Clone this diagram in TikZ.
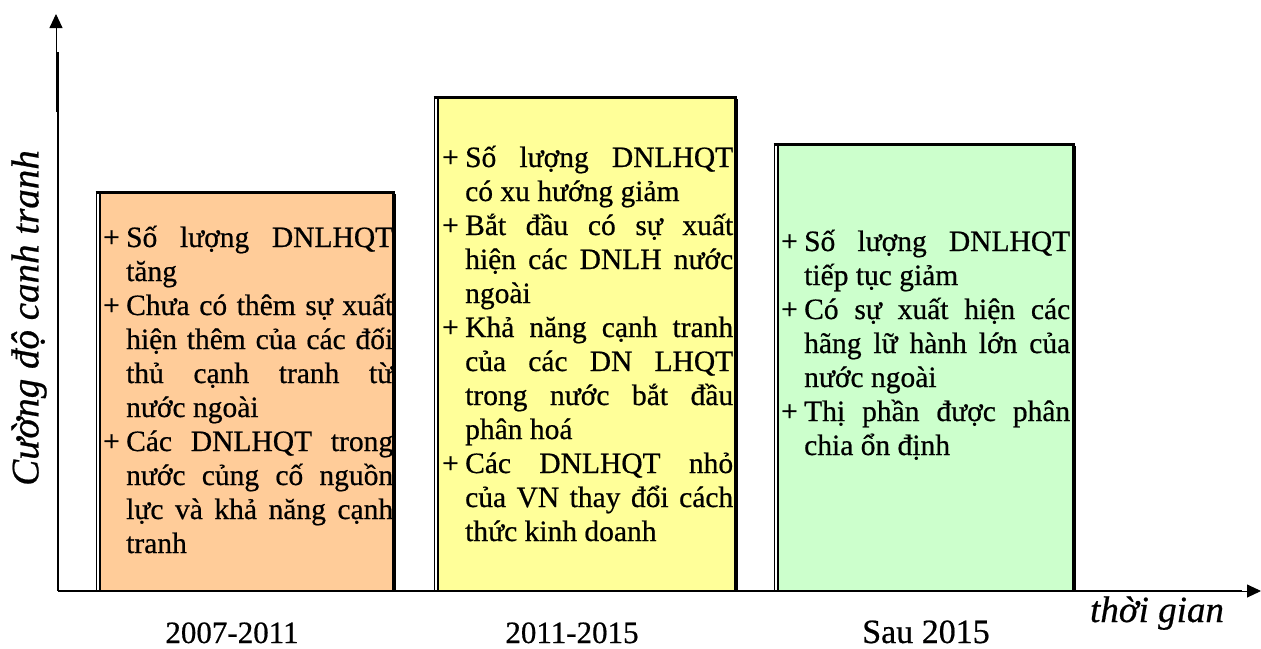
\documentclass[tikz,border=0pt]{standalone}
\usepackage{fontspec}
\setmainfont{Liberation Serif}[RawFeature={embolden=0.6}]
\usetikzlibrary{arrows.meta}
\definecolor{peach}{HTML}{FFCC99}
\definecolor{lyellow}{HTML}{FFFF99}
\definecolor{lgreen}{HTML}{CCFFCC}
\newcommand{\itm}[1]{{\hangindent=23pt\hangafter=1\noindent\makebox[23pt][l]{+}#1\par}}
\newcommand{\txtfont}{\fontsize{29.5}{34}\selectfont}
\tikzset{
  barbox/.style={anchor=south west, inner sep=0pt, outer sep=0pt, draw=none},
  bartext/.style={anchor=base west, inner sep=0pt, font=\txtfont},
  axisthick/.style={line width=2.4pt},
  axisthin/.style={line width=0.9pt, -{Triangle[length=14pt,width=13pt]}},
  edgethin/.style={line width=0.8pt},
  edgeleft/.style={line width=2pt},
  edgetop/.style={line width=3pt},
  edgeright/.style={line width=3.5pt},
  period/.style={font=\fontsize{31}{36}\selectfont, anchor=base},
  axlabel/.style={font=\fontsize{37}{42}\selectfont\itshape},
}
\begin{document}
\begin{tikzpicture}[x=1pt,y=-1pt]
\useasboundingbox (0,0) rectangle (1261,648);
% boxes
\node[barbox, fill=peach, minimum width=296pt, minimum height=400pt] (b1) at (99,591) {};
\node[barbox, fill=lyellow, minimum width=300pt, minimum height=495pt] (b2) at (437,591) {};
\node[barbox, fill=lgreen, minimum width=298pt, minimum height=448pt] (b3) at (777,591) {};
% borders
\foreach \b in {b1,b2,b3}{
  \draw[edgethin] ([xshift=-3pt]\b.north west) -- ([xshift=-3pt]\b.south west);
  \draw[edgeleft] ([xshift=0.5pt]\b.north west) -- ([xshift=0.5pt]\b.south west);
  \draw[edgetop] ([xshift=-3.4pt,yshift=-1.5pt]\b.north west) -- ([xshift=0pt,yshift=-1.5pt]\b.north east);
  \draw[edgeright] ([xshift=-1.2pt,yshift=-3pt]\b.north east) -- ([xshift=-1.2pt]\b.south east);
}
% axes
\coordinate (o) at (58,591);
\coordinate (ytop) at (58,52);
\coordinate (ytip0) at (56,112);
\coordinate (ytip) at (56,14);
\coordinate (xend) at (1242,591);
\coordinate (xtip0) at (1238,591);
\coordinate (xtip) at (1261,591);
\draw[axisthick] (o) -- (ytop);
\draw[axisthin] (ytip0) -- (ytip);
\draw[axisthick] (o) -- (xend);
\draw[axisthin] (xtip0) -- (xtip);
% texts
\node[bartext] (t1) at (103,247) {\parbox[t]{290pt}{%
\itm{Số lượng DNLHQT\linebreak tăng}
\itm{Chưa có thêm sự xuất\linebreak hiện thêm của các đối\linebreak thủ cạnh tranh từ\linebreak nước ngoài}
\itm{Các DNLHQT trong\linebreak nước củng cố nguồn\linebreak lực và khả năng cạnh\linebreak tranh}}};
\node[bartext] (t2) at (442,167) {\parbox[t]{291pt}{%
\itm{Số lượng DNLHQT\linebreak có xu hướng giảm}
\itm{Bắt đầu có sự xuất\linebreak hiện các DNLH nước\linebreak ngoài}
\itm{Khả năng cạnh tranh\linebreak của các DN LHQT\linebreak trong nước bắt đầu\linebreak phân hoá}
\itm{Các DNLHQT nhỏ\linebreak của VN thay đổi cách\linebreak thức kinh doanh}}};
\node[bartext] (t3) at (781,251) {\parbox[t]{289pt}{%
\itm{Số lượng DNLHQT\linebreak tiếp tục giảm}
\itm{Có sự xuất hiện các\linebreak hãng lữ hành lớn của\linebreak nước ngoài}
\itm{Thị phần được phân\linebreak chia ổn định}}};
% labels
\node[period] (p1) at (232,643) {2007-2011};
\node[period] (p2) at (572,643) {2011-2015};
\node[period, font=\fontsize{34}{38}\selectfont] (p3) at (926,643) {Sau 2015};
\node[axlabel, anchor=base] (xl) at (1157,622) {thời gian};
\node[axlabel, font=\fontsize{39}{44}\selectfont\itshape, rotate=90] (yl) at (29,318) {Cường độ canh tranh};
\end{tikzpicture}
\end{document}
